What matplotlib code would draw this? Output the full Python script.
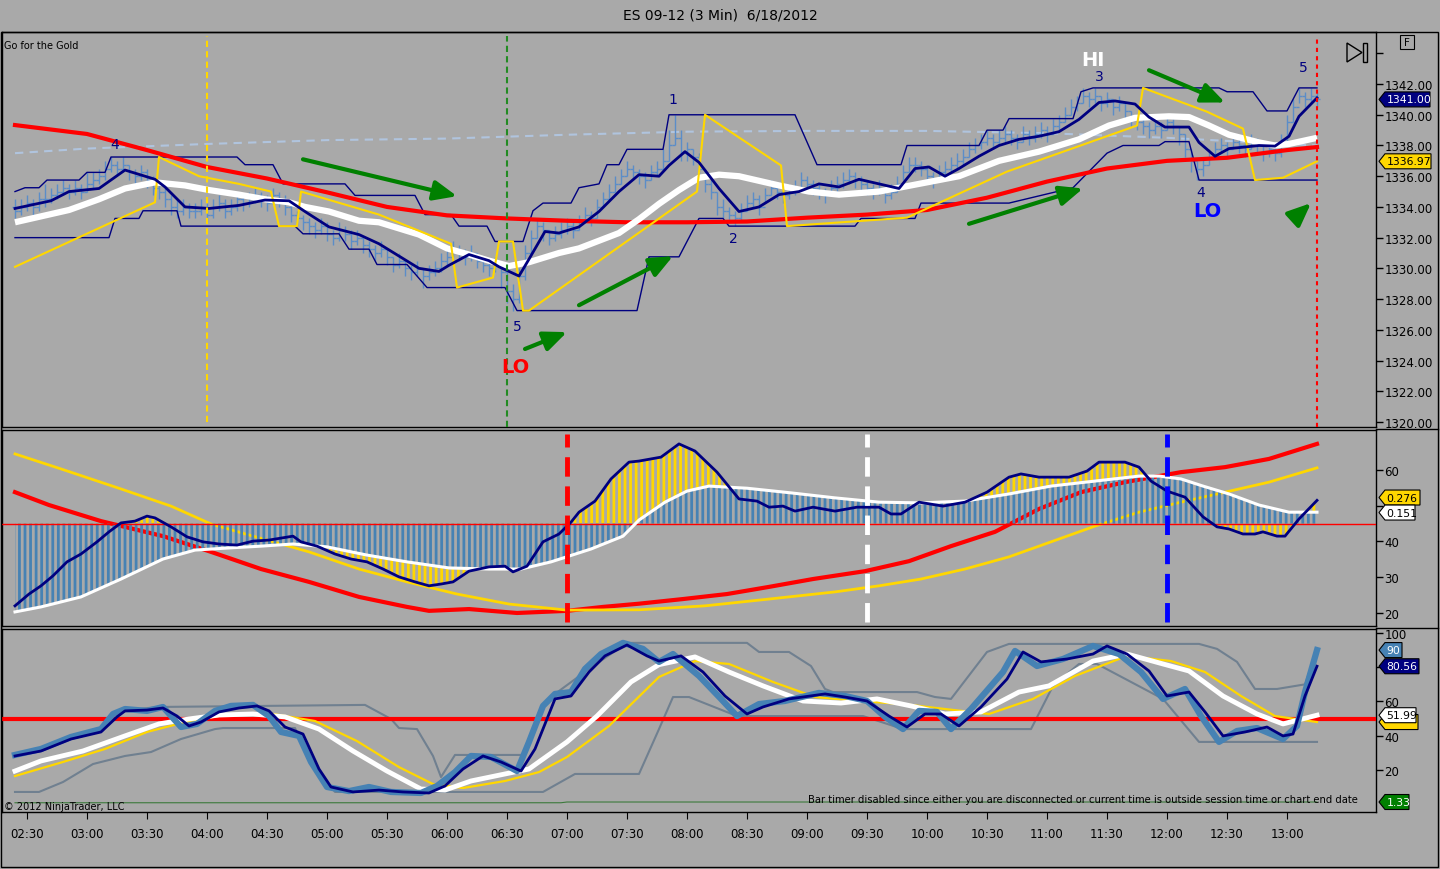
import numpy as np
import matplotlib
matplotlib.use('Agg')
import matplotlib.pyplot as plt
from matplotlib.patches import Polygon, Rectangle
from matplotlib.lines import Line2D
from matplotlib.transforms import IdentityTransform

plt.rcParams['font.family'] = ['DejaVu Sans']
plt.rcParams['hatch.linewidth'] = 2.0

BG = '#A9A9A9'
NAVY = '#000080'
STEEL = '#4682B4'
BARC = '#5B8DC8'
RED = '#FF0000'
GOLD = '#FFD700'
GREEN = '#008000'
SLATE = '#708090'
W, H = 1440, 870


def tm(s):
    h, m = s.split(':')
    return int(h) * 60 + int(m)


def tms(s):
    return np.array([tm(x) for x in s.split()])


# ---------------- price bars (3 min, first bar 02:24) ----------------
bar_first_open = 1334.0
bar_close = [
    1333.75, 1334.0, 1334.25, 1334.0, 1334.5, 1334.5, 1334.75, 1335.0, 1335.25, 1335.0,
    1335.25, 1335.0, 1335.5, 1335.75, 1336.0, 1336.5, 1336.75, 1336.5, 1336.75, 1336.25,
    1336.0, 1336.25, 1335.75, 1335.25, 1335.0, 1334.5, 1334.0, 1333.75, 1334.0, 1333.75,
    1333.75, 1334.0, 1333.5, 1334.0, 1334.25, 1333.75, 1334.0, 1334.5, 1334.25, 1334.5,
    1334.75, 1334.5, 1334.25, 1334.75, 1334.5, 1334.0, 1333.5, 1333.25, 1333.0, 1332.75,
    1332.5, 1332.75, 1332.25, 1332.0, 1332.5, 1332.25, 1331.75, 1332.0, 1331.5, 1331.25,
    1331.0, 1331.25, 1330.75, 1330.25, 1330.5, 1330.0, 1329.75, 1330.0, 1329.5, 1329.75,
    1330.0, 1330.5, 1330.75, 1331.25, 1331.0, 1330.75, 1331.0, 1330.5, 1330.25, 1330.0,
    1330.25, 1329.75, 1328.5, 1328.0, 1329.5, 1331.0, 1332.0, 1332.75, 1332.5, 1332.0,
    1332.25, 1332.5, 1332.75, 1332.5, 1333.0, 1333.5, 1333.25, 1334.0, 1334.5, 1335.0,
    1335.5, 1336.0, 1336.5, 1336.25, 1336.0, 1335.75, 1336.25, 1336.5, 1337.0, 1338.0,
    1338.5, 1337.5, 1337.75, 1337.25, 1336.5, 1335.5, 1335.0, 1334.0, 1333.75, 1333.5,
    1333.25, 1333.75, 1334.25, 1334.5, 1334.0, 1334.75, 1335.25, 1335.0, 1334.75, 1335.0,
    1335.25, 1335.75, 1335.5, 1335.25, 1335.0, 1334.75, 1335.25, 1335.5, 1335.75, 1336.0,
    1335.75, 1335.5, 1335.25, 1335.0, 1335.25, 1334.75, 1335.0, 1335.5, 1336.25, 1336.75,
    1336.75, 1336.5, 1336.0, 1335.75, 1336.25, 1336.5, 1336.75, 1337.0, 1337.25, 1337.75,
    1338.0, 1338.25, 1338.5, 1338.25, 1338.5, 1338.75, 1338.5, 1338.25, 1338.75, 1338.5,
    1338.75, 1339.0, 1338.75, 1339.25, 1339.5, 1340.0, 1340.5, 1340.75, 1341.25, 1341.0,
    1341.25, 1340.75, 1341.0, 1340.5, 1340.75, 1340.25, 1339.75, 1339.5, 1339.25, 1339.0,
    1339.25, 1339.0, 1339.5, 1339.25, 1338.75, 1337.75, 1337.0, 1336.5, 1336.75, 1337.25,
    1337.75, 1338.0, 1337.75, 1338.25, 1338.0, 1337.75, 1338.25, 1338.0, 1337.5, 1337.75,
    1337.5, 1338.25, 1339.5, 1340.5, 1341.25, 1341.0, 1341.25, 1341.0]
bar_high = [
    1334.5, 1334.5, 1334.75, 1334.5, 1335.0, 1335.5, 1335.25, 1335.5, 1335.75, 1335.5,
    1335.75, 1335.5, 1336.25, 1336.25, 1336.5, 1337.0, 1337.25, 1337.0, 1337.25, 1336.75,
    1336.5, 1336.75, 1336.5, 1336.0, 1335.5, 1335.25, 1334.75, 1334.5, 1334.5, 1334.25,
    1334.25, 1334.5, 1334.25, 1334.5, 1334.75, 1334.5, 1334.5, 1335.0, 1334.75, 1335.0,
    1335.25, 1335.0, 1334.75, 1335.25, 1335.0, 1334.75, 1334.25, 1333.75, 1333.5, 1333.25,
    1333.0, 1333.25, 1333.0, 1332.5, 1333.0, 1332.75, 1332.5, 1332.5, 1332.0, 1331.75,
    1331.5, 1331.75, 1331.25, 1330.75, 1331.0, 1330.5, 1330.25, 1330.5, 1330.0, 1330.25,
    1330.5, 1331.0, 1331.25, 1331.75, 1331.5, 1331.25, 1331.5, 1331.0, 1330.75, 1330.5,
    1330.75, 1330.5, 1329.75, 1329.0, 1330.0, 1331.5, 1332.5, 1333.25, 1333.0, 1332.5,
    1332.75, 1333.0, 1333.25, 1333.0, 1333.5, 1334.0, 1333.75, 1334.5, 1335.0, 1335.5,
    1336.0, 1336.5, 1337.0, 1336.75, 1336.5, 1336.25, 1336.75, 1337.0, 1337.75, 1339.0,
    1340.0, 1339.0, 1338.25, 1337.75, 1337.5, 1336.5, 1335.75, 1335.0, 1334.5, 1334.0,
    1333.75, 1334.25, 1334.75, 1335.0, 1334.75, 1335.25, 1335.75, 1335.5, 1335.25, 1335.5,
    1335.75, 1336.25, 1336.0, 1335.75, 1335.5, 1335.25, 1335.75, 1336.0, 1336.25, 1336.5,
    1336.25, 1336.0, 1335.75, 1335.5, 1335.75, 1335.25, 1335.5, 1336.0, 1336.75, 1337.25,
    1337.25, 1337.0, 1336.75, 1336.25, 1336.75, 1337.0, 1337.25, 1337.5, 1337.75, 1338.25,
    1338.5, 1338.75, 1339.0, 1338.75, 1339.0, 1339.25, 1339.0, 1338.75, 1339.25, 1339.0,
    1339.25, 1339.5, 1339.25, 1339.75, 1340.0, 1340.5, 1341.0, 1341.25, 1341.75, 1341.5,
    1341.75, 1341.25, 1341.5, 1341.0, 1341.25, 1340.75, 1340.25, 1340.0, 1339.75, 1339.5,
    1339.75, 1339.5, 1340.0, 1339.75, 1339.25, 1338.75, 1337.75, 1337.0, 1337.25, 1337.75,
    1338.25, 1338.5, 1338.25, 1338.75, 1338.5, 1338.25, 1338.75, 1338.5, 1338.0, 1338.25,
    1338.0, 1338.75, 1340.0, 1341.0, 1341.75, 1341.5, 1341.75, 1341.5]
bar_low = [
    1333.25, 1333.5, 1333.75, 1333.5, 1333.75, 1334.0, 1334.25, 1334.5, 1334.75, 1334.5,
    1334.75, 1334.5, 1335.0, 1335.25, 1335.5, 1335.75, 1336.25, 1336.0, 1336.25, 1335.75,
    1335.5, 1335.75, 1335.25, 1334.75, 1334.5, 1334.0, 1333.5, 1333.25, 1333.5, 1333.25,
    1333.25, 1333.5, 1333.0, 1333.25, 1333.75, 1333.25, 1333.5, 1333.75, 1333.75, 1334.0,
    1334.25, 1334.0, 1333.75, 1334.25, 1334.0, 1333.5, 1333.0, 1332.75, 1332.5, 1332.25,
    1332.0, 1332.25, 1331.75, 1331.5, 1331.75, 1331.75, 1331.25, 1331.5, 1331.0, 1330.75,
    1330.5, 1330.75, 1330.25, 1329.75, 1330.0, 1329.5, 1329.25, 1329.5, 1328.75, 1329.25,
    1329.5, 1329.75, 1330.25, 1330.75, 1330.5, 1330.25, 1330.5, 1330.0, 1329.75, 1329.5,
    1329.75, 1328.75, 1327.75, 1327.25, 1327.75, 1329.25, 1331.0, 1332.0, 1331.75, 1331.5,
    1331.75, 1332.0, 1332.25, 1332.0, 1332.5, 1333.0, 1332.75, 1333.25, 1334.0, 1334.5,
    1335.0, 1335.5, 1336.0, 1335.75, 1335.5, 1335.25, 1335.75, 1336.0, 1336.5, 1337.0,
    1338.0, 1337.0, 1337.0, 1336.75, 1336.0, 1335.0, 1334.5, 1333.5, 1333.25, 1333.0,
    1332.75, 1333.0, 1333.75, 1334.0, 1333.5, 1334.25, 1334.75, 1334.5, 1334.25, 1334.5,
    1334.75, 1335.25, 1335.0, 1334.75, 1334.5, 1334.25, 1334.75, 1335.0, 1335.25, 1335.5,
    1335.25, 1335.0, 1334.75, 1334.5, 1334.75, 1334.25, 1334.5, 1335.0, 1335.75, 1336.25,
    1336.25, 1336.0, 1335.5, 1335.25, 1335.75, 1336.0, 1336.25, 1336.5, 1336.75, 1337.25,
    1337.5, 1337.75, 1338.0, 1337.75, 1338.0, 1338.25, 1338.0, 1337.75, 1338.25, 1338.0,
    1338.25, 1338.5, 1338.25, 1338.75, 1339.0, 1339.5, 1340.0, 1340.25, 1340.75, 1340.5,
    1340.75, 1340.25, 1340.5, 1340.0, 1340.25, 1339.75, 1339.25, 1339.0, 1338.75, 1338.5,
    1338.75, 1338.5, 1339.0, 1338.75, 1338.0, 1337.25, 1336.25, 1335.75, 1336.0, 1336.75,
    1337.25, 1337.5, 1337.25, 1337.75, 1337.5, 1337.25, 1337.75, 1337.5, 1337.0, 1337.25,
    1337.0, 1337.25, 1338.25, 1339.5, 1340.75, 1340.5, 1340.75, 1340.5]

# ---------------- price panel lines ----------------
fast_t = tms("02:24 02:42 02:51 03:06 03:19 03:34 03:39 03:49 04:01 04:16 04:29 04:41 04:49 "
             "05:01 05:16 05:26 05:46 05:56 06:01 06:11 06:21 06:26 06:36 06:41 06:49 06:56 "
             "07:06 07:16 07:26 07:36 07:46 07:51 07:59 08:06 08:16 08:26 08:36 08:46 08:56 "
             "09:06 09:16 09:26 09:36 09:46 09:54 10:01 10:09 10:16 10:26 10:36 10:46 10:56 "
             "11:06 11:16 11:26 11:34 11:44 11:51 11:59 12:11 12:16 12:24 12:31 12:39 12:46 "
             "12:54 13:01 13:06 13:15")
fast_v = [1333.9, 1334.4, 1335.0, 1335.2, 1336.4, 1335.8, 1335.3, 1334.0, 1333.9, 1334.1,
          1334.45, 1334.4, 1333.7, 1332.7, 1332.2, 1331.6, 1330.0, 1329.8, 1330.2, 1330.9,
          1330.5, 1330.1, 1329.5, 1330.6, 1332.4, 1332.3, 1332.7, 1333.7, 1335.0, 1336.1,
          1336.0, 1336.7, 1337.6, 1336.9, 1335.2, 1333.7, 1334.0, 1334.8, 1335.0, 1335.5,
          1335.3, 1335.8, 1335.5, 1335.2, 1336.5, 1336.6, 1336.0, 1336.5, 1337.3, 1338.0,
          1338.4, 1338.6, 1338.9, 1339.7, 1340.8, 1340.9, 1340.7, 1339.85, 1339.2, 1339.2,
          1338.2, 1337.3, 1337.8, 1337.9, 1338.0, 1337.96, 1338.6, 1339.9, 1341.1]

white_t = tms("02:24 02:51 03:06 03:19 03:34 03:49 04:01 04:16 04:29 04:41 04:49 05:01 05:16 "
              "05:26 05:46 06:00 06:11 06:21 06:31 06:41 06:56 07:06 07:16 07:26 07:36 07:46 "
              "07:56 08:06 08:16 08:26 08:36 08:46 09:01 09:16 09:36 09:56 10:16 10:36 10:56 "
              "11:16 11:31 11:44 12:01 12:11 12:21 12:31 12:46 12:54 13:01 13:15")
white_v = [1333.0, 1333.8, 1334.5, 1335.2, 1335.6, 1335.4, 1335.1, 1334.8, 1334.5, 1334.3,
           1334.0, 1333.7, 1333.1, 1333.0, 1332.2, 1331.3, 1330.9, 1330.5, 1330.15, 1330.4,
           1331.0, 1331.3, 1331.8, 1332.3, 1333.2, 1334.2, 1335.1, 1335.9, 1336.1, 1336.0,
           1335.7, 1335.4, 1335.0, 1334.8, 1335.0, 1335.5, 1336.0, 1337.0, 1337.6, 1338.4,
           1339.3, 1339.8, 1339.9, 1339.85, 1339.3, 1338.7, 1338.2, 1338.0, 1338.1, 1338.5]

red_t = tms("02:24 03:00 03:30 04:00 04:30 05:00 05:30 06:00 06:30 07:00 07:30 08:00 "
            "08:30 09:00 09:30 10:00 10:30 11:00 11:30 12:00 12:30 13:00 13:15")
red_v = [1339.33, 1338.75, 1337.7, 1336.6, 1335.85, 1334.95, 1334.0, 1333.45, 1333.25,
         1333.1, 1333.0, 1333.0, 1333.05, 1333.3, 1333.5, 1333.8, 1334.6, 1335.65, 1336.5,
         1337.0, 1337.2, 1337.7, 1337.9]

stop_t = tms("02:24 03:34 03:36 03:56 04:16 04:32 04:36 04:45 04:47 05:26 06:02 06:05 06:23 "
             "06:26 06:33 06:38 06:41 08:05 08:09 08:47 08:50 09:50 10:40 11:45 11:48 12:20 "
             "12:38 12:44 12:58 13:15")
stop_v = [1330.1, 1334.3, 1337.25, 1336.0, 1335.5, 1335.0, 1332.75, 1332.75, 1335.0, 1333.5,
          1331.6, 1328.75, 1329.4, 1331.75, 1331.75, 1327.25, 1327.25, 1335.0, 1340.0, 1336.7,
          1332.75, 1333.3, 1336.3, 1339.3, 1341.75, 1340.2, 1339.1, 1335.75, 1335.9, 1336.97]

slow_t = tms("02:24 03:00 04:00 05:00 06:00 07:00 08:00 09:00 10:00 11:00 12:00 13:15")
slow_v = [1337.5, 1337.8, 1338.1, 1338.35, 1338.45, 1338.7, 1338.9, 1338.95, 1338.95,
          1338.8, 1338.5, 1338.0]

upper_t = tms("02:24 02:29 02:36 02:40 02:56 03:00 03:09 03:12 04:15 04:19 04:33 04:38 05:09 "
              "05:14 05:44 05:49 06:02 06:06 06:20 06:24 06:38 06:43 06:48 07:02 07:06 07:16 "
              "07:20 07:26 07:30 07:48 07:51 08:54 09:05 09:47 09:50 10:26 10:30 10:38 10:41 "
              "11:13 11:17 11:23 12:26 12:30 12:43 12:50 13:00 13:06 13:15")
upper_v = [1335.0, 1335.25, 1335.25, 1335.75, 1335.75, 1336.25, 1336.25, 1337.25, 1337.25,
           1336.75, 1336.75, 1335.5, 1335.5, 1334.75, 1334.75, 1333.5, 1333.5, 1332.75,
           1332.75, 1331.75, 1331.75, 1333.75, 1334.25, 1334.25, 1335.25, 1335.5, 1336.75,
           1336.75, 1337.75, 1337.75, 1340.0, 1340.0, 1336.75, 1336.75, 1338.0, 1338.0,
           1339.0, 1339.0, 1339.75, 1339.75, 1341.5, 1341.75, 1341.75, 1341.5, 1341.5,
           1340.25, 1340.25, 1341.75, 1341.75]

lower_t = tms("02:24 03:11 03:14 03:26 03:28 03:45 03:47 04:44 04:48 05:06 05:11 05:21 05:25 "
              "05:40 05:50 06:29 06:35 07:35 07:41 07:56 08:06 08:18 08:21 09:24 09:27 09:54 "
              "09:57 10:41 11:13 11:30 11:38 11:56 11:59 12:11 12:16 13:15")
lower_v = [1332.0, 1332.0, 1333.25, 1333.25, 1333.75, 1333.75, 1332.75, 1332.75, 1332.25,
           1332.25, 1331.25, 1331.25, 1330.25, 1330.25, 1328.75, 1328.75, 1327.25, 1327.25,
           1330.75, 1330.75, 1333.25, 1333.25, 1332.75, 1332.75, 1333.25, 1333.25, 1334.25,
           1334.25, 1335.25, 1337.5, 1338.0, 1338.0, 1338.25, 1338.25, 1335.75, 1335.75]

# wave labels and arrows drawn on the price panel
wave_labels = [("4", "03:14", 1338.1, NAVY, 10), ("5", "06:35", 1326.25, NAVY, 10),
               ("LO", "06:34", 1323.6, RED, 14), ("1", "07:53", 1341.0, NAVY, 10),
               ("2", "08:23", 1332.0, NAVY, 10), ("HI", "11:23", 1343.6, 'white', 14),
               ("3", "11:26", 1342.5, NAVY, 10), ("4", "12:17", 1335.0, NAVY, 10),
               ("LO", "12:20", 1333.75, '#0000FF', 14), ("5", "13:08", 1343.1, NAVY, 10)]
arrows = [("04:48", 1337.1, "06:05", 1334.7), ("06:39", 1324.75, "07:00", 1325.85),
          ("07:06", 1327.6, "07:53", 1330.8), ("10:21", 1332.9, "11:18", 1335.2),
          ("11:51", 1342.9, "12:29", 1340.8), ("13:04", 1333.3, "13:12", 1334.25)]

# ---------------- oscillator panel ----------------
macd_t = tms("02:24 02:31 02:37 02:43 02:50 02:57 03:05 03:11 03:17 03:24 03:30 03:34 03:42 "
             "03:50 03:58 04:06 04:15 04:23 04:31 04:43 04:47 04:55 05:04 05:12 05:20 05:28 "
             "05:36 05:44 05:51 05:57 06:03 06:11 06:21 06:29 06:33 06:40 06:48 06:56 07:02 "
             "07:06 07:14 07:22 07:31 07:36 07:47 07:56 08:04 08:15 08:26 08:35 08:41 08:48 "
             "08:54 09:03 09:14 09:25 09:36 09:42 09:47 09:56 10:08 10:19 10:30 10:41 10:47 "
             "10:56 11:11 11:20 11:26 11:39 11:46 11:52 12:00 12:09 12:18 12:25 12:31 12:38 "
             "12:44 12:48 12:55 12:59 13:06 13:15")
macd_v = [22.0, 25.3, 27.6, 30.4, 34.3, 36.5, 39.9, 42.7, 45.2, 45.7,
          47.1, 46.6, 44.1, 41.3, 39.9, 39.3, 39.0, 40.1, 40.4, 41.5,
          39.9, 38.7, 36.5, 35.1, 34.3, 32.3, 30.1, 28.7, 27.6, 28.1,
          28.7, 31.7, 32.9, 33.1, 31.5, 33.1, 39.9, 42.1, 45.4, 48.2,
          51.3, 57.5, 62.2, 62.5, 63.6, 67.3, 65.3, 59.4, 51.9, 51.3,
          49.6, 49.9, 48.5, 49.6, 48.5, 49.6, 49.6, 47.7, 47.7, 51.0,
          49.9, 51.0, 53.8, 58.0, 58.9, 58.0, 58.0, 59.7, 62.2, 62.2,
          60.8, 56.9, 54.1, 52.4, 46.9, 44.1, 43.5, 42.1, 42.1, 42.7,
          41.5, 41.5, 46.3, 51.5]
signal_t = tms("02:24 02:37 02:57 03:17 03:38 03:54 04:11 04:27 04:43 05:00 05:20 05:40 06:01 "
               "06:21 06:37 06:52 07:12 07:28 07:36 07:49 08:00 08:11 08:30 08:52 09:14 09:36 "
               "09:57 10:19 10:41 11:02 11:24 11:46 11:56 12:07 12:18 12:31 12:46 13:01 13:15")
signal_v = [20.3, 21.7, 24.5, 29.5, 35.1, 37.6, 38.2, 38.7, 39.3, 38.5,
            36.2, 34.3, 32.6, 32.3, 32.3, 34.3, 37.9, 41.5, 46.0, 51.0,
            54.1, 55.5, 54.9, 53.6, 52.2, 51.0, 50.8, 51.3, 53.3, 55.5,
            56.9, 58.3, 58.3, 57.5, 55.5, 53.3, 50.2, 48.2, 48.2]
osc_red_t = tms("02:24 02:41 03:07 03:38 04:02 04:27 04:51 05:16 05:40 05:51 06:11 06:35 07:00 "
                "07:18 07:36 07:58 08:20 08:41 09:03 09:29 09:51 10:12 10:34 10:56 11:17 11:39 "
                "11:56 12:07 12:29 12:51 13:15")
osc_red_v = [53.8, 50.2, 45.7, 41.5, 37.1, 32.3, 28.7, 24.5, 21.7, 20.6, 21.1, 20.0, 20.6,
             21.7, 22.6, 23.9, 25.3, 27.3, 29.5, 31.7, 34.5, 38.7, 42.7, 49.1, 53.8, 56.6,
             58.3, 59.4, 60.8, 63.1, 67.3]
osc_yel_t = tms("02:24 02:47 03:17 03:42 04:02 04:23 04:51 05:16 05:40 06:05 06:31 07:00 07:36 "
                "08:09 08:41 09:14 09:36 09:57 10:19 10:41 11:02 11:24 11:46 12:07 12:29 12:51 13:15")
osc_yel_v = [64.5, 60.3, 54.7, 49.9, 44.9, 41.5, 37.1, 32.3, 28.7, 25.3, 22.5, 20.8, 20.9,
             22.0, 23.9, 25.9, 27.6, 29.5, 32.3, 35.7, 39.9, 44.3, 48.2, 51.0, 53.8, 56.6, 60.6]
osc_zero = 45.0
osc_marks = [("07:00", RED), ("09:30", 'white'), ("12:00", '#0000FF')]

# ---------------- stochastic panel ----------------
k_t = tms("02:24 02:37 02:52 03:07 03:13 03:19 03:30 03:38 03:47 03:55 04:04 04:12 04:23 04:31 "
          "04:37 04:46 04:52 05:00 05:11 05:21 05:32 05:47 05:55 06:04 06:12 06:22 06:35 06:41 "
          "06:48 06:54 07:02 07:09 07:17 07:28 07:38 07:46 07:53 08:06 08:17 08:25 08:36 08:49 "
          "09:06 09:19 09:30 09:39 09:48 09:56 10:05 10:12 10:22 10:38 10:44 10:55 11:08 11:23 "
          "11:36 11:47 11:58 12:09 12:17 12:26 12:35 12:45 12:58 13:05 13:09 13:15")
k_v = [28.8, 32.3, 39.3, 43.9, 52.7, 55.6, 54.5, 56.8, 45.1, 46.9,
       54.5, 57.4, 58.0, 51.5, 42.2, 39.9, 24.7, 10.1, 7.7, 10.1,
       7.2, 6.6, 10.7, 18.8, 28.2, 27.6, 19.4, 36.4, 57.4, 64.4,
       65.5, 79.0, 87.7, 94.2, 90.7, 83.1, 87.7, 74.9, 61.5, 51.5,
       58.5, 60.3, 65.0, 63.2, 60.3, 51.0, 43.9, 54.5, 53.9, 43.9,
       55.6, 77.2, 89.5, 80.7, 84.8, 92.4, 87.7, 77.2, 61.5, 67.3,
       51.5, 36.4, 42.8, 44.5, 38.1, 45.7, 65.5, 90.0]
d_t = tms("02:24 02:37 02:52 03:07 03:15 03:19 03:30 03:38 03:45 03:51 03:57 04:06 04:16 04:25 "
          "04:31 04:39 04:48 04:56 05:02 05:13 05:26 05:38 05:51 05:59 06:08 06:18 06:27 06:37 "
          "06:44 06:50 06:54 07:02 07:11 07:19 07:30 07:40 07:46 07:57 08:08 08:19 08:30 08:38 "
          "08:51 09:09 09:19 09:30 09:41 09:50 09:59 10:07 10:16 10:27 10:40 10:48 10:57 11:10 "
          "11:23 11:30 11:40 11:51 12:00 12:11 12:19 12:28 12:39 12:50 12:58 13:03 13:09 13:15")
d_v = [28.2, 31.1, 38.1, 42.2, 51.0, 54.5, 55.0, 56.2, 51.5, 45.7,
       48.0, 53.9, 56.2, 57.4, 54.5, 45.1, 41.0, 20.6, 10.1, 7.2,
       8.3, 7.2, 6.6, 10.7, 20.6, 28.2, 24.7, 19.4, 32.3, 49.8,
       61.5, 63.2, 77.2, 86.6, 93.0, 86.6, 83.6, 86.6, 77.2, 63.2,
       52.7, 56.8, 61.5, 64.4, 62.6, 60.3, 51.5, 45.1, 52.7, 52.7,
       45.7, 56.8, 73.1, 88.9, 83.1, 84.8, 87.7, 92.4, 87.7, 77.8,
       63.2, 65.5, 53.9, 39.9, 42.2, 45.1, 39.9, 41.0, 63.2, 80.56]
sd_t = tms("02:24 02:37 02:58 03:19 03:36 03:51 04:06 04:23 04:39 04:56 05:13 05:30 05:47 05:59 "
           "06:12 06:29 06:41 07:00 07:15 07:32 07:46 08:04 08:21 08:38 08:58 09:17 09:35 09:52 "
           "10:09 10:27 10:46 11:01 11:23 11:40 11:58 12:11 12:28 12:45 12:58 13:15")
sd_v = [19.4, 25.3, 31.1, 39.9, 46.9, 49.8, 52.1, 52.7, 51.0, 43.9,
        31.1, 19.4, 8.9, 8.3, 13.6, 17.7, 20.6, 36.4, 51.5, 71.4,
        81.5, 86.0, 77.2, 69.1, 60.3, 59.1, 61.5, 57.4, 52.7, 53.9,
        65.5, 69.1, 83.6, 87.7, 81.9, 77.8, 63.2, 52.7, 46.9, 51.99]
ssd_t = tms("02:24 02:48 03:09 03:30 03:51 04:12 04:33 04:54 05:15 05:36 05:53 06:08 06:29 06:46 "
            "07:00 07:21 07:46 08:04 08:21 08:43 09:04 09:26 09:48 10:09 10:31 10:53 11:14 11:40 "
            "12:02 12:19 12:37 12:54 13:15")
ssd_v = [16.5, 24.7, 32.3, 42.2, 48.6, 52.7, 52.7, 48.6, 36.9, 21.7, 11.8, 9.5, 13.6, 18.8,
         27.6, 45.7, 74.3, 83.6, 81.9, 71.4, 62.6, 60.3, 58.5, 55.6, 52.7, 61.5, 74.9, 86.6,
         83.6, 77.2, 63.2, 51.5, 48.0]
env_hi_t = tms("03:20 03:36 05:19 05:32 05:36 05:45 05:53 05:57 06:04 06:39 06:48 06:54 07:11 "
               "07:30 08:30 08:36 08:51 09:02 09:09 09:13 09:55 10:04 10:12 10:30 10:41 12:16 "
               "12:25 12:35 12:44 12:55 13:09 13:15")
env_hi_v = [55.0, 56.8, 58.0, 49.8, 44.5, 43.9, 28.2, 15.9, 28.8, 28.8, 57.4, 64.4, 79.0,
            94.2, 94.2, 88.9, 88.9, 80.7, 67.3, 65.5, 65.5, 62.6, 61.5, 88.9, 93.6, 93.6,
            90.7, 83.1, 67.3, 67.3, 70.0, 90.0]
env_lo_t = tms("02:24 02:36 02:48 03:03 03:19 03:32 03:47 04:04 04:08 04:44 04:52 05:04 06:48 "
               "07:04 07:36 07:46 07:53 08:01 08:25 09:28 09:48 10:52 11:03 11:16 11:25 11:58 "
               "12:16 13:15")
env_lo_v = [7.2, 7.2, 13.0, 23.5, 28.2, 30.5, 38.1, 43.9, 44.5, 44.5, 24.7, 7.2, 7.2, 17.7,
            17.7, 43.9, 62.6, 62.6, 51.5, 51.5, 43.9, 43.9, 69.1, 81.9, 81.9, 61.5, 36.4, 36.4]
vol_t = tms("02:24 06:57 07:00 13:15")
vol_v = [0.9, 0.9, 1.33, 1.33]
stoch_mid = 50

xtick_labels = ["02:30", "03:00", "03:30", "04:00", "04:30", "05:00", "05:30", "06:00",
                "06:30", "07:00", "07:30", "08:00", "08:30", "09:00", "09:30", "10:00",
                "10:30", "11:00", "11:30", "12:00", "12:30", "13:00"]

# ---------------- figure ----------------
fig = plt.figure(figsize=(14.4, 8.7), dpi=100, facecolor=BG)


def panel(top, bottom):
    ax = fig.add_axes([2 / W, 1 - bottom / H, 1374 / W, (bottom - top) / H])
    ax.set_facecolor(BG)
    ax.set_xlim(137.5, 824.5)
    ax.yaxis.tick_right()
    ax.tick_params(axis='y', direction='out', length=5, width=1, pad=1,
                   labelsize=8.5, colors='black')
    ax.tick_params(axis='x', bottom=False, labelbottom=False)
    for s in ax.spines.values():
        s.set_linewidth(1.0)
        s.set_color('black')
    return ax


ax1 = panel(33, 428)
ax2 = panel(431, 627)
ax3 = panel(630, 813)

# price panel
ax1.set_ylim(1319.67, 1345.39)
yt = list(range(1320, 1346, 2))
ax1.set_yticks(yt)
ax1.set_yticklabels([f'{v:.2f}' if v < 1344 else '' for v in yt])

bar_t = tm("02:24") + 3 * np.arange(len(bar_close))
bar_open = [bar_first_open] + bar_close[:-1]
ax1.plot(slow_t, slow_v, color='#B0C4DE', lw=1.5, ls=(0, (4, 3)), zorder=2)
ax1.vlines(bar_t, bar_low, bar_high, color=BARC, lw=1, zorder=3)
ax1.hlines(bar_open, bar_t - 1.3, bar_t, color=BARC, lw=1, zorder=3)
ax1.hlines(bar_close, bar_t, bar_t + 1.3, color=BARC, lw=1, zorder=3)
ax1.plot(upper_t, upper_v, color=NAVY, lw=1, zorder=4)
ax1.plot(lower_t, lower_v, color=NAVY, lw=1, zorder=4)
ax1.plot(red_t, red_v, color=RED, lw=3, zorder=5)
ax1.plot(white_t, white_v, color='white', lw=4.5, zorder=6, solid_capstyle='butt')
ax1.plot(stop_t, stop_v, color=GOLD, lw=1.5, zorder=7)
ax1.plot(fast_t, fast_v, color=NAVY, lw=2, zorder=8)

ax1.axvline(tm("04:00"), ymin=0.012, ymax=0.99, color=GOLD, lw=1.5, ls=(0, (3, 2)), zorder=9)
ax1.axvline(tm("06:30"), ymin=0.0, ymax=0.99, color='#228B22', lw=1.5, ls=(0, (3, 2)), zorder=9)
ax1.axvline(tm("13:15"), ymin=0.0, ymax=0.99, color=RED, lw=1.5, ls=(0, (2, 2)), zorder=9)

for txt, t, p, c, fs in wave_labels:
    ax1.text(tm(t), p, txt, color=c, fontsize=fs, ha='center', va='center',
             fontweight='bold' if fs > 10 else 'normal', zorder=10)
for t0, p0, t1, p1 in arrows:
    ax1.annotate('', xy=(tm(t1), p1), xytext=(tm(t0), p0),
                 arrowprops=dict(arrowstyle='-|>,head_length=1.4,head_width=0.6',
                                 color=GREEN, lw=3, shrinkA=0, shrinkB=0,
                                 mutation_scale=10), zorder=10)

# oscillator panel (the 50 label sits under the value tags in the original)
ax2.set_ylim(16.36, 71.19)
ax2.set_yticks([20, 30, 40, 50, 60])
ax2.set_yticklabels(['20', '30', '40', '', '60'])
ax2.fill_between(macd_t, osc_zero, macd_v, facecolor='none', edgecolor=GOLD,
                 hatch='|||', linewidth=0, zorder=1)
ax2.fill_between(signal_t, osc_zero, signal_v, facecolor=BG, edgecolor='none',
                 linewidth=0, zorder=2)
ax2.plot(osc_red_t, osc_red_v, color=RED, lw=3, zorder=3)
ax2.plot(osc_yel_t, osc_yel_v, color=GOLD, lw=2, zorder=3)
ax2.fill_between(signal_t, osc_zero, signal_v, facecolor='none', edgecolor=STEEL,
                 hatch='|||', linewidth=0, zorder=4)
ax2.axhline(osc_zero, color=RED, lw=1, zorder=5)
ax2.plot(signal_t, signal_v, color='white', lw=2.2, zorder=6)
ax2.plot(macd_t, macd_v, color=NAVY, lw=2, zorder=7)
for t, c in osc_marks:
    ax2.axvline(tm(t), ymin=0.02, ymax=0.98, color=c, lw=3.5, ls=(0, (4, 2)), zorder=8)

# stochastic panel (the 80 label is covered by a tag in the original)
ax3.set_ylim(-4.5, 102.3)
ax3.set_yticks([20, 40, 60, 80, 100])
ax3.set_yticklabels(['20', '40', '60', '', '100'])
ax3.plot(vol_t, vol_v, color='#3C7A3C', lw=0.8, zorder=1)
ax3.plot(env_hi_t, env_hi_v, color=SLATE, lw=1.5, zorder=2)
ax3.plot(env_lo_t, env_lo_v, color=SLATE, lw=1.5, zorder=2)
ax3.axhline(stoch_mid, color=RED, lw=3, zorder=3)
ax3.plot(ssd_t, ssd_v, color=GOLD, lw=1.6, zorder=4)
ax3.plot(sd_t, sd_v, color='white', lw=3.5, zorder=5)
ax3.plot(k_t, k_v, color=STEEL, lw=4.5, zorder=6)
ax3.plot(d_t, d_v, color=NAVY, lw=2, zorder=7)
ax3.set_xticks([tm(s) for s in xtick_labels])
ax3.set_xticklabels(xtick_labels)
ax3.tick_params(axis='x', bottom=True, labelbottom=True, direction='out', length=5,
                pad=6, labelsize=8.5, colors='black')

# value tags on the right axis
idt = IdentityTransform()


def tag(ax, val, text, fc, tc, right):
    y = ax.transData.transform((ax.get_xlim()[0], val))[1]
    pts = [(1379, y), (1385, y + 7.5), (right, y + 7.5), (right, y - 7.5), (1385, y - 7.5)]
    fig.add_artist(Polygon(pts, closed=True, facecolor=fc, edgecolor='black', lw=0.8,
                           transform=idt, zorder=10))
    if text:
        fig.text(1386.5, y, text, color=tc, fontsize=7.8, ha='left', va='center',
                 transform=idt, zorder=11)


tag(ax1, fast_v[-1] - 0.1, '1341.00', NAVY, 'white', 1430)
tag(ax1, stop_v[-1], '1336.97', GOLD, 'black', 1431)
tag(ax2, 52.3, '0.276', GOLD, 'black', 1420)
tag(ax2, 48.1, '0.151', 'white', 'black', 1415)
tag(ax3, k_v[-1], '90', STEEL, 'white', 1402)
tag(ax3, d_v[-1], '80.56', NAVY, 'white', 1419)
tag(ax3, ssd_v[-1], '', GOLD, 'black', 1418)
tag(ax3, sd_v[-1], '51.99', 'white', 'black', 1416)
tag(ax3, vol_v[-1], '1.33', GREEN, 'white', 1409)


def px(x, y):
    return (x, H - y)


# outer frame and strip separators
fig.add_artist(Rectangle(px(1, 868), 1437, 835, fill=False, edgecolor='black', lw=1,
                         transform=idt))
for yy in (429.5, 628.5):
    fig.add_artist(Line2D([1376, 1438], [H - yy, H - yy], color='black', lw=1, transform=idt))

# toolbar glyphs
fig.add_artist(Polygon([px(1347, 44), px(1347, 63), px(1362, 53.5)], closed=True, fill=False,
                       edgecolor='black', lw=1, transform=idt))
fig.add_artist(Rectangle(px(1363, 63), 4, 19, fill=False, edgecolor='black', lw=1, transform=idt))
fig.add_artist(Rectangle(px(1400, 50), 14, 14, fill=False, edgecolor='black', lw=0.8, transform=idt))
fig.text(1407, H - 43, 'F', fontsize=7.5, ha='center', va='center', transform=idt)

fig.text(720, H - 16, 'ES 09-12 (3 Min)  6/18/2012', fontsize=10, ha='center', va='center',
         transform=idt)
fig.text(4, H - 46, 'Go for the Gold', fontsize=7, ha='left', va='center', transform=idt)
fig.text(4, H - 807, '\u00a9 2012 NinjaTrader, LLC', fontsize=7, ha='left', va='center',
         transform=idt)
fig.text(1358, H - 800, 'Bar timer disabled since either you are disconnected or current time '
         'is outside session time or chart end date', fontsize=7.2, ha='right', va='center',
         transform=idt)

fig.savefig('out.png', dpi=100, facecolor=BG)
